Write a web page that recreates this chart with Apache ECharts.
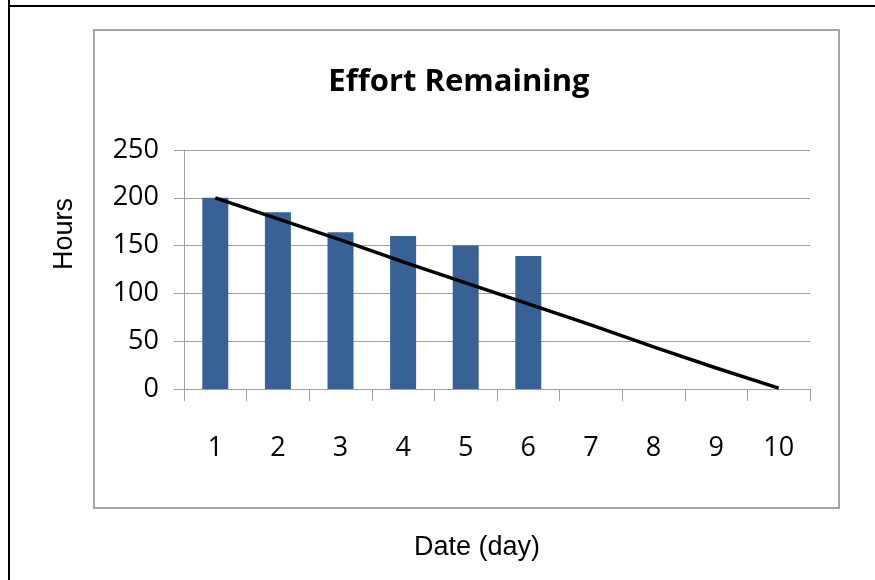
<!DOCTYPE html>
<html>
<head>
<meta charset="utf-8">
<script src="https://cdn.jsdelivr.net/npm/echarts@6/dist/echarts.min.js"></script>
<style>
  html, body { margin: 0; padding: 0; background: #fff; }
  #chart { width: 875px; height: 580px; }
</style>
</head>
<body>
<div id="chart"></div>
<script>
const categories = ['1', '2', '3', '4', '5', '6', '7', '8', '9', '10'];
const actualHours = [200, 185, 164, 160, 150, 139, null, null, null, null];
const idealHours = [200, 178, 156, 133, 111, 89, 67, 44, 22, 1];
const yTicks = { min: 0, max: 250, interval: 50 };
const titleText = 'Effort Remaining';
const yAxisTitle = 'Hours';
const xAxisTitle = 'Date (day)';

const chart = echarts.init(document.getElementById('chart'), null, { renderer: 'canvas' });
const gray = '#a0a0a0';
const tickFont = '"Open Sans", sans-serif';

chart.setOption({
  animation: false,
  backgroundColor: '#ffffff',
  title: {
    text: titleText,
    left: 454,
    top: 62,
    textAlign: 'center',
    textStyle: { fontFamily: tickFont, fontWeight: 'bold', fontSize: 31, color: '#000' }
  },
  grid: { left: 184, right: 65, top: 150, bottom: 191, containLabel: false },
  xAxis: {
    type: 'category',
    data: categories,
    boundaryGap: true,
    axisLine: { show: true, lineStyle: { color: gray, width: 1 } },
    axisTick: { show: true, length: 12, lineStyle: { color: gray } },
    axisLabel: { margin: 46, fontFamily: tickFont, fontSize: 27, color: '#000' },
    splitLine: { show: false }
  },
  yAxis: {
    type: 'value',
    min: yTicks.min,
    max: yTicks.max,
    interval: yTicks.interval,
    axisLine: { show: true, lineStyle: { color: gray, width: 1 } },
    axisTick: { show: true, length: 10, lineStyle: { color: gray } },
    axisLabel: { margin: 25, fontFamily: tickFont, fontSize: 27, color: '#000' },
    splitLine: { show: true, lineStyle: { color: gray, width: 1 } }
  },
  series: [
    {
      type: 'bar',
      name: 'Actual',
      data: actualHours,
      barWidth: 26,
      itemStyle: { color: '#386296' }
    },
    {
      type: 'line',
      name: 'Ideal',
      data: idealHours,
      showSymbol: false,
      symbol: 'none',
      lineStyle: { color: '#000', width: 3.5 },
      z: 5
    }
  ],
  graphic: [
    { type: 'line', shape: { x1: 9, y1: 0, x2: 9, y2: 580 }, style: { stroke: '#000', lineWidth: 2 }, silent: true },
    { type: 'line', shape: { x1: 8, y1: 6, x2: 875, y2: 6 }, style: { stroke: '#000', lineWidth: 2 }, silent: true },
    { type: 'rect', shape: { x: 94, y: 30, width: 745, height: 478 }, style: { fill: 'none', stroke: '#a6a6a6', lineWidth: 2 }, silent: true, z: -1 },
    {
      type: 'text', x: 65, y: 234, rotation: Math.PI / 2,
      style: { text: yAxisTitle, fontFamily: '"Liberation Sans", Arial, sans-serif', fontSize: 27, fill: '#000', textAlign: 'center', textVerticalAlign: 'middle' }
    },
    {
      type: 'text', x: 477, y: 548,
      style: { text: xAxisTitle, fontFamily: '"Liberation Sans", Arial, sans-serif', fontSize: 27, fill: '#000', textAlign: 'center', textVerticalAlign: 'middle' }
    }
  ]
});
</script>
</body>
</html>
